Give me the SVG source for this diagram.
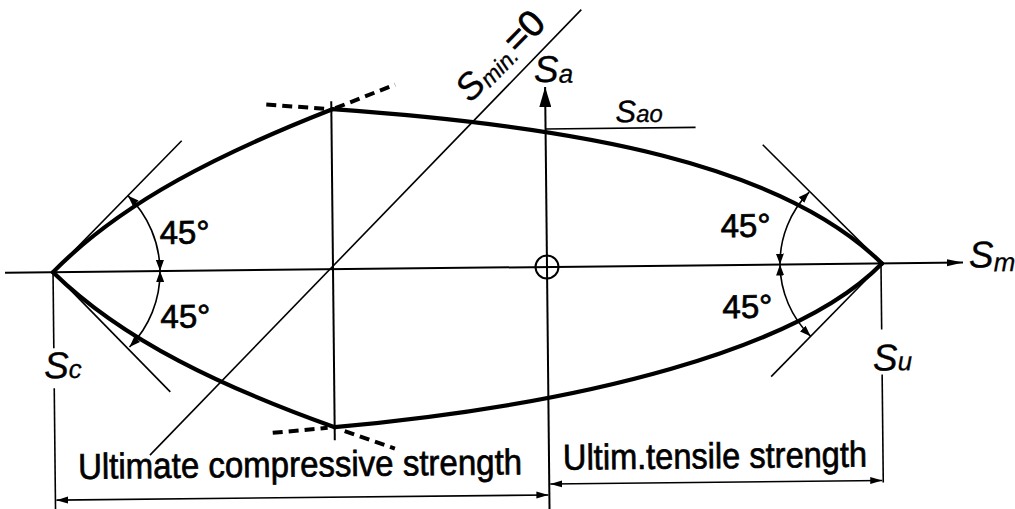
<svg xmlns="http://www.w3.org/2000/svg" width="1015" height="509" viewBox="0 0 1015 509">
<style>
.thin{fill:none;stroke:#000;stroke-width:1.6}
.mid{fill:none;stroke:#000;stroke-width:2}
.thick{fill:none;stroke:#000;stroke-width:4.2;stroke-linecap:round}
.dash{fill:none;stroke:#000;stroke-width:4;stroke-dasharray:10 6}
.lbl{font-family:"Liberation Sans",Arial,sans-serif;fill:#000;stroke:#000;stroke-width:0.7}
.sym{font-family:"Liberation Sans",Arial,sans-serif;font-style:italic;fill:#000;stroke:#000;stroke-width:0.3}
</style>
<defs>
<marker id="arS" markerUnits="userSpaceOnUse" markerWidth="12" markerHeight="8" refX="11" refY="4" orient="auto-start-reverse"><path d="M0,0 L11,4 L0,8 z" fill="#000"/></marker>
<marker id="arD" markerUnits="userSpaceOnUse" markerWidth="13" markerHeight="8" refX="12" refY="4" orient="auto-start-reverse"><path d="M0,0.5 L12,4 L0,7.5 z" fill="#000"/></marker>
<marker id="arM" markerUnits="userSpaceOnUse" markerWidth="17" markerHeight="8" refX="16" refY="4" orient="auto"><path d="M0,0.5 L16,4 L0,7.5 z" fill="#000"/></marker>
<marker id="arA" markerUnits="userSpaceOnUse" markerWidth="21" markerHeight="12" refX="20" refY="6" orient="auto"><path d="M0,0 L20,6 L0,12 z" fill="#000"/></marker>
</defs>
<g transform="rotate(-0.6 545 267)">
<g id="connectors">
<line class="mid" x1="5" y1="267" x2="963" y2="267" marker-end="url(#arM)"/>
<line class="mid" x1="547" y1="512" x2="547" y2="87" marker-end="url(#arA)"/>
<circle class="mid" cx="547" cy="267" r="11.5"/>
<line class="mid" x1="333" y1="99" x2="333" y2="438"/>
<line class="thin" x1="53" y1="267" x2="53" y2="343"/>
<line class="thin" x1="53" y1="383" x2="53" y2="512"/>
<line class="thin" x1="881" y1="267" x2="881" y2="333"/>
<line class="thin" x1="881" y1="378" x2="881" y2="486"/>
<line class="thin" x1="148" y1="451" x2="584" y2="10"/>
<line class="thin" x1="547" y1="129" x2="697" y2="129"/>
<line class="thin" x1="53" y1="267" x2="183" y2="137"/>
<line class="thin" x1="53" y1="267" x2="169" y2="388"/>
<line class="thin" x1="764" y1="147" x2="882" y2="267"/>
<line class="thin" x1="770" y1="379" x2="882" y2="267"/>
<path class="thick" d="M53,267 C123,197 224,148.8 334,107"/>
<path class="thick" d="M334,107 C584,127 782,167 882,267"/>
<path class="thick" d="M53,267 C123,337 223,384.3 333,425"/>
<path class="thick" d="M333,425 C583,405 797,352 882,267"/>
<line class="dash" x1="268" y1="101.6" x2="326" y2="106.4"/>
<line class="dash" x1="337" y1="106" x2="397" y2="83"/>
<line class="dash" x1="271" y1="430" x2="326" y2="425.5"/>
<line class="dash" x1="343" y1="429" x2="393" y2="447"/>
<path class="thin" d="M128.7,191.3 A107,107 0 0,1 160,267" marker-start="url(#arS)" marker-end="url(#arS)"/>
<path class="thin" d="M160,267 A107,107 0 0,1 128.7,342.7" marker-start="url(#arS)" marker-end="url(#arS)"/>
<path class="thin" d="M809.9,194.9 A102,102 0 0,0 780,267" marker-start="url(#arS)" marker-end="url(#arS)"/>
<path class="thin" d="M780,267 A102,102 0 0,0 809.9,339.1" marker-start="url(#arS)" marker-end="url(#arS)"/>
<line class="thin" x1="54" y1="495" x2="546" y2="495" marker-start="url(#arD)" marker-end="url(#arD)"/>
<line class="thin" x1="548" y1="484" x2="880" y2="484" marker-start="url(#arD)" marker-end="url(#arD)"/>
</g>
<g id="labels">
<text class="lbl" x="160" y="240" font-size="33">45°</text>
<text class="lbl" x="160" y="324" font-size="33">45°</text>
<text class="lbl" x="721" y="239" font-size="33">45°</text>
<text class="lbl" x="722" y="320" font-size="33">45°</text>
<text class="sym" x="43" y="373" font-size="37">S<tspan font-size="26">c</tspan></text>
<text class="sym" x="872" y="374" font-size="37">S<tspan font-size="26">u</tspan></text>
<text class="sym" x="969" y="272" font-size="37">S<tspan font-size="26" dy="4">m</tspan></text>
<text class="sym" x="536" y="82" font-size="37">S<tspan font-size="26" dy="1">a</tspan></text>
<text class="sym" x="617" y="123" font-size="31">S<tspan font-size="24">ao</tspan></text>
<text class="sym" transform="translate(472,103) rotate(-45)" font-size="37">S<tspan font-size="23" dy="3">min.</tspan><tspan class="lbl" font-style="normal" dy="-3">=0</tspan></text>
<text class="lbl" x="76" y="474" font-size="36" textLength="444" lengthAdjust="spacingAndGlyphs">Ultimate compressive strength</text>
<text class="lbl" x="561" y="470" font-size="36" textLength="304" lengthAdjust="spacingAndGlyphs">Ultim.tensile strength</text>
</g>
</g>
</svg>
